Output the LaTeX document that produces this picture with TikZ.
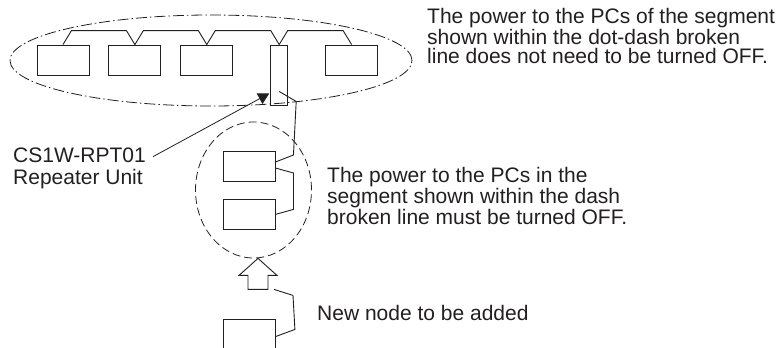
\documentclass[tikz,border=0pt]{standalone}
\usepackage{fontspec}
\setmainfont{Liberation Sans}
\usetikzlibrary{
  arrows.meta,
  positioning,
  shapes.geometric
}
\definecolor{RptInk}{HTML}{231F20}

\begin{document}
\begin{tikzpicture}[
  x=1pt,y=-1pt,
  every node/.style={font=\fontsize{21}{19}\selectfont,text=RptInk},
  pc/.style={draw=RptInk,line width=0.9pt,minimum width=52pt,
    minimum height=30pt,inner sep=0pt},
  rptbox/.style={pc,minimum width=17pt,minimum height=60pt},
  wire/.style={draw=RptInk,line width=0.9pt},
  note/.style={align=left,inner sep=0pt,anchor=base west},
  segouter/.style={ellipse,draw=RptInk,line width=0.8pt,inner sep=0pt,
    dash pattern=on 11pt off 3pt on 1.5pt off 3pt},
  seginner/.style={ellipse,draw=RptInk,line width=0.8pt,inner sep=0pt,
    dash pattern=on 8pt off 4pt},
  pointer/.style={-{Triangle[length=11pt,width=12pt]},line width=0.8pt,
    color=RptInk}
]
\clip (0,0) rectangle (782,348);

% segment that stays powered
\node[segouter,minimum width=402pt,minimum height=91pt] (segon) at (211,60.5) {};
\node[pc] (pc1) at (63,60) {};
\node[pc,right=19pt of pc1] (pc2) {};
\node[pc,right=19pt of pc2] (pc3) {};
\node[rptbox,right=37pt of pc3.north east,anchor=north west] (rpt) {};
\node[pc,right=37pt of rpt.north east,anchor=north west] (pc5) {};

\draw[wire] (pc1.north) -- ++(8.5,-14) -- ([shift={(-8.5,-14)}]pc2.north) -- (pc2.north);
\draw[wire] (pc2.north) -- ++(8.5,-14) -- ([shift={(-8.5,-14)}]pc3.north) -- (pc3.north);
\draw[wire] (pc3.north) -- ++(8.5,-14) -- ([shift={(-8.5,-14)}]rpt.north) -- (rpt.north);
\draw[wire] (rpt.north) -- ++(8.5,-14) -- ([shift={(-8.5,-14)}]pc5.north) -- (pc5.north);

% segment that must be turned off
\node[seginner,minimum width=116pt,minimum height=136pt] (segoff) at (253.5,190) {};
\node[pc] (pcA) at (249,166.5) {};
\node[pc,below=17pt of pcA] (pcB) {};

\draw[wire] ([shift={(0,-14)}]rpt.south) -- ++(17,10)
  -- ([shift={(18,-11.5)}]pcA.east) -- ([shift={(0,-4.5)}]pcA.east);
\draw[wire] ([shift={(0,1.5)}]pcA.east) -- ++(18,5)
  -- ([shift={(18,-5)}]pcB.east) -- (pcB.east);

% node to be added
\coordinate (addtip) at ([shift={(4.5,0)}]segoff.south);
\draw[wire] (addtip) -- ++(19,17) -- ++(-9,0) -- ++(0,14) -- ++(-20,0)
  -- ++(0,-14) -- ++(-9,0) -- cycle;
\node[pc,minimum height=34pt,anchor=north west] (newpc) at (223,319) {};
\draw[wire] ([shift={(16,31)}]addtip) -- ++(19,6)
  -- ([shift={(19,-7)}]newpc.east) -- (newpc.east);

% texts
\node[note] (topnote) at (427,63)
  {The power to the PCs of the segment\\shown within the dot-dash broken\\line does not need to be turned OFF.};
\node[note] (rptlabel) at (13,184) {CS1W-RPT01\\[2.5pt]Repeater Unit};
\node[note] (midnote) at (327,224)
  {The power to the PCs in the\\segment shown within the dash\\broken line must be turned OFF.};
\node[note] (newnote) at (317,320) {New node to be added};

\draw[pointer] ([shift={(7,9)}]rptlabel.north east) -- ([shift={(-1,-12)}]rpt.south west);
\end{tikzpicture}
\end{document}
